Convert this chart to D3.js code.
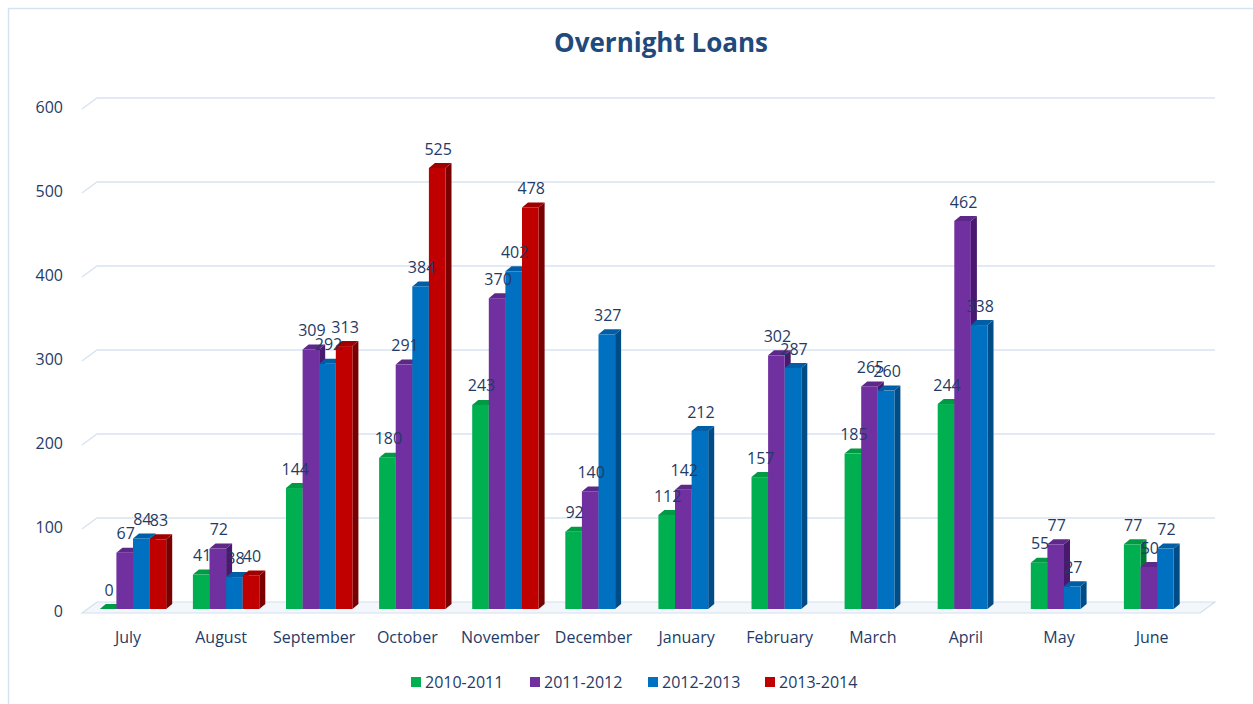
<!DOCTYPE html>
<html>
<head>
<meta charset="utf-8">
<script src="https://cdn.jsdelivr.net/npm/d3@7"></script>
<style>
  body { margin: 0; background: #fff; }
  svg { display: block; font-family: "Open Sans", sans-serif; }
</style>
</head>
<body>
<div id="wrapper"></div>
<script>
// data
const months = ["July", "August", "September", "October", "November", "December",
  "January", "February", "March", "April", "May", "June"];
const seriesNames = ["2010-2011", "2011-2012", "2012-2013", "2013-2014"];
const s2010 = [0, 41, 144, 180, 243, 92, 112, 157, 185, 244, 55, 77];
const s2011 = [67, 72, 309, 291, 370, 140, 142, 302, 265, 462, 77, 50];
const s2012 = [84, 38, 292, 384, 402, 327, 212, 287, 260, 338, 27, 72];
const s2013 = [83, 40, 313, 525, 478, null, null, null, null, null, null, null];
const yTicks = [0, 100, 200, 300, 400, 500, 600];

const seriesValues = [s2010, s2011, s2012, s2013];
const colors = [
  { front: "#00b050", top: "#009a45", side: "#007a36" },
  { front: "#7030a0", top: "#5e278a", side: "#48196e" },
  { front: "#0070c0", top: "#005ea6", side: "#004c86" },
  { front: "#c00000", top: "#a00000", side: "#780000" },
];

const textColor = "#1f3b66";
const width = 1253, height = 704;

const svg = d3.select("#wrapper").append("svg")
    .attr("width", width)
    .attr("height", height);

// outer frame
svg.append("rect")
    .attr("x", 8.5).attr("y", 8.5)
    .attr("width", 1260).attr("height", 720)
    .attr("fill", "none")
    .attr("stroke", "#d5e2f2")
    .attr("stroke-width", 1.5);

// scales
const perUnit = 0.84;
const wallY = d3.scaleLinear().domain([0, 600]).range([613, 613 - 600 * perUnit]); // front edge at axis
const barY = d3.scaleLinear().domain([0, 600]).range([609, 609 - 600 * perUnit]);
const wallDx = 15, wallDy = 11;
const floorRight = 1200;

const step = 93.1;
const x0 = d3.scaleBand()
    .domain(months)
    .range([133 - step / 2, 133 - step / 2 + step * months.length])
    .paddingInner(0).paddingOuter(0);
const bw = 16.6;
const x1 = d3.scaleBand()
    .domain(seriesNames)
    .range([-2 * bw, 2 * bw]);

const depthDx = 6, depthDy = 5;

// gridlines (back wall) with diagonal to axis
const grid = svg.append("g");
yTicks.filter(d => d > 0).forEach(t => {
  const yf = wallY(t), yb = yf - wallDy;
  grid.append("path")
      .attr("d", `M82,${yf} L${82 + wallDx},${yb} L${floorRight + wallDx},${yb}`)
      .attr("fill", "none")
      .attr("stroke", "#d9e4f2")
      .attr("stroke-width", 1.5);
});

// floor
const yf0 = wallY(0);
svg.append("path")
    .attr("d", `M82,${yf0} L${82 + wallDx},${yf0 - wallDy} L${floorRight + wallDx},${yf0 - wallDy} L${floorRight},${yf0} Z`)
    .attr("fill", "#f3f7fc")
    .attr("stroke", "#d3dfee")
    .attr("stroke-width", 1.2);

// y axis labels
svg.append("g").selectAll("text")
  .data(yTicks)
  .join("text")
    .attr("x", 63)
    .attr("y", d => wallY(d) - 2)
    .attr("dy", "0.35em")
    .attr("text-anchor", "end")
    .attr("font-size", 16)
    .attr("fill", textColor)
    .text(d => d);

// bars
const barData = [];
months.forEach((m, i) => {
  seriesNames.forEach((s, j) => {
    const v = seriesValues[j][i];
    if (v === null) return;
    barData.push({ month: m, series: s, j, value: v });
  });
});

const bars = svg.append("g").selectAll("g")
  .data(barData)
  .join("g");

bars.each(function(d) {
  const g = d3.select(this);
  const xl = x0(d.month) + x0.bandwidth() / 2 + x1(d.series);
  const xr = xl + bw;
  const yt = barY(d.value);
  const yb = barY(0);
  const c = colors[d.j];
  // side
  g.append("path")
      .attr("d", `M${xr},${yt} L${xr + depthDx},${yt - depthDy} L${xr + depthDx},${yb - depthDy} L${xr},${yb} Z`)
      .attr("fill", c.side);
  // top
  g.append("path")
      .attr("d", `M${xl},${yt} L${xl + depthDx},${yt - depthDy} L${xr + depthDx},${yt - depthDy} L${xr},${yt} Z`)
      .attr("fill", c.top);
  // front
  g.append("rect")
      .attr("x", xl).attr("y", yt)
      .attr("width", bw).attr("height", Math.max(0, yb - yt))
      .attr("fill", c.front);
});

// value labels
svg.append("g").selectAll("text")
  .data(barData)
  .join("text")
    .attr("x", d => x0(d.month) + x0.bandwidth() / 2 + x1(d.series) + bw / 2 + 1)
    .attr("y", d => barY(d.value) - 19)
    .attr("dy", "0.35em")
    .attr("text-anchor", "middle")
    .attr("font-size", 16)
    .attr("fill", textColor)
    .text(d => d.value);

// category labels
svg.append("g").selectAll("text")
  .data(months)
  .join("text")
    .attr("x", d => x0(d) + x0.bandwidth() / 2 - 5)
    .attr("y", 643)
    .attr("text-anchor", "middle")
    .attr("font-size", 16)
    .attr("fill", textColor)
    .text(d => d);

// title
svg.append("text")
    .attr("x", 661)
    .attr("y", 52)
    .attr("text-anchor", "middle")
    .attr("font-size", 26)
    .attr("font-weight", "bold")
    .attr("fill", "#1f4a7c")
    .text("Overnight Loans");

// legend
const legendX = [411, 530, 648, 765];
const legend = svg.append("g").selectAll("g")
  .data(seriesNames)
  .join("g")
    .attr("transform", (d, i) => `translate(${legendX[i]}, 682)`);
legend.append("rect")
    .attr("x", 0).attr("y", -5)
    .attr("width", 10).attr("height", 10)
    .attr("fill", (d, i) => colors[i].front);
legend.append("text")
    .attr("x", 14)
    .attr("dy", "0.35em")
    .attr("font-size", 16)
    .attr("fill", textColor)
    .text(d => d);
</script>
</body>
</html>
